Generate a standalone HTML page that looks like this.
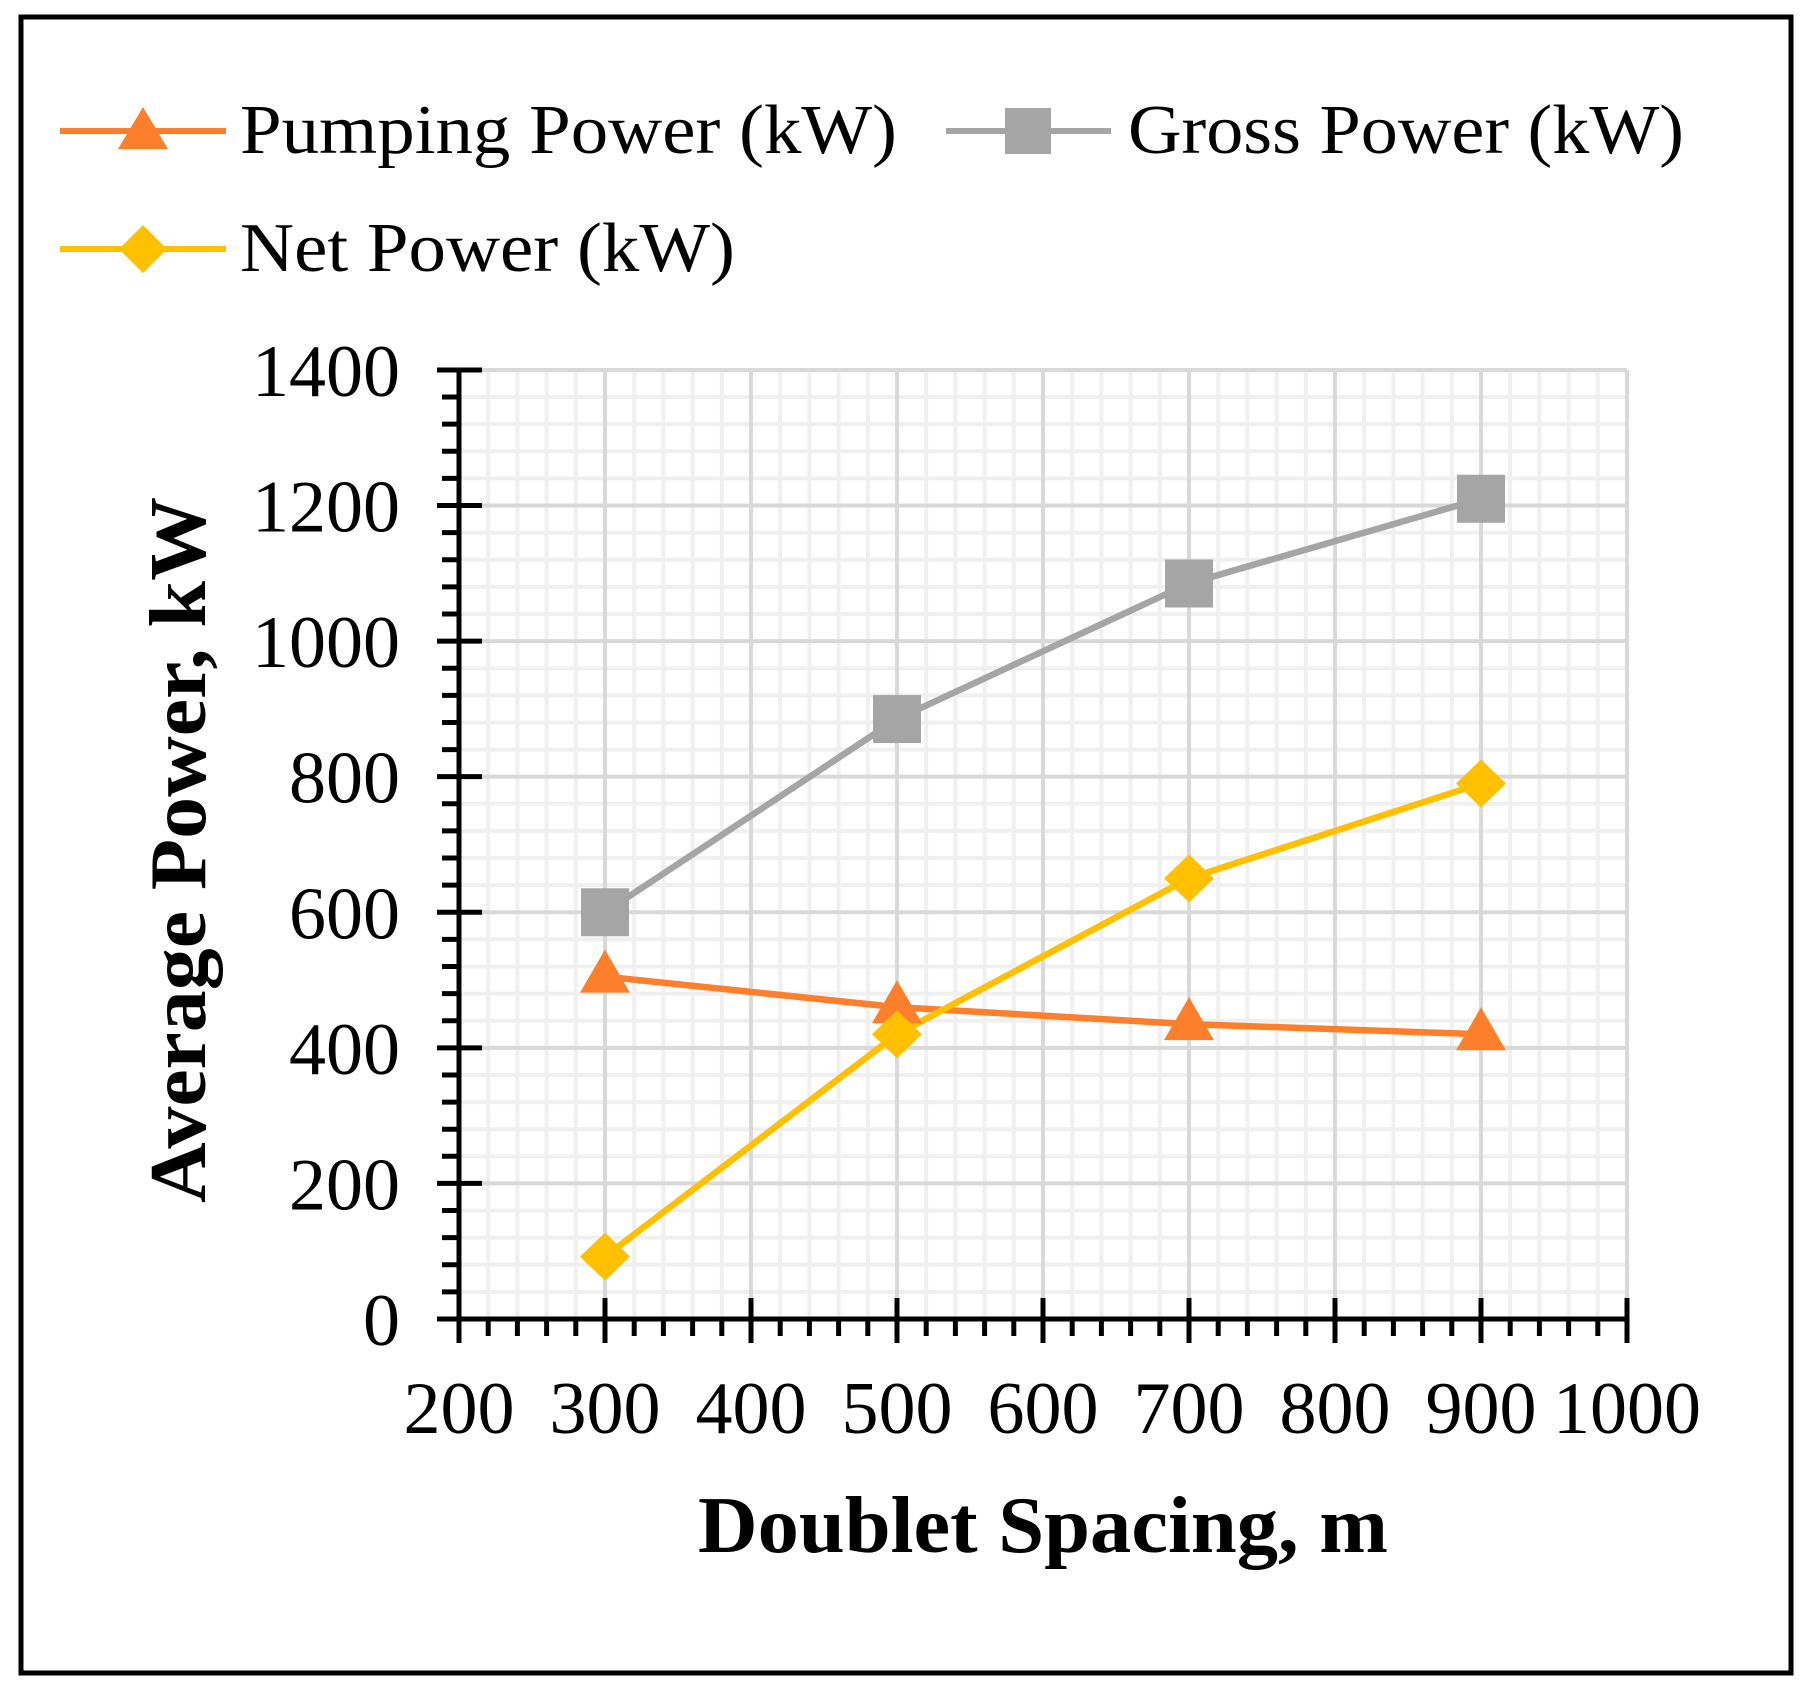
<!DOCTYPE html>
<html><head><meta charset="utf-8"><style>body{margin:0;background:#fff}svg{display:block}text{font-family:"Liberation Serif",serif}</style></head><body>
<svg width="1814" height="1695" viewBox="0 0 1814 1695" xmlns="http://www.w3.org/2000/svg">
<rect x="0" y="0" width="1814" height="1695" fill="#fff"/>
<rect x="21" y="17" width="1770" height="1656" fill="none" stroke="#000" stroke-width="5"/>
<g id="grid"></g>
<g id="axes"></g>
<g id="series"></g>
<g font-size="74" fill="#000" id="lbl"></g>
<text x="0" y="0" transform="translate(205,850) rotate(-90)" text-anchor="middle" font-size="80" font-weight="bold" textLength="706" lengthAdjust="spacingAndGlyphs">Average Power, kW</text>
<text x="1043" y="1552" text-anchor="middle" font-size="80" font-weight="bold" textLength="690" lengthAdjust="spacingAndGlyphs">Doublet Spacing, m</text>
<g stroke-width="6">
<line x1="60" y1="131" x2="226" y2="131" stroke="#fd7f2c"/>
<polygon points="143,107 168,149 118,149" fill="#fd7f2c"/>
<line x1="946" y1="131" x2="1111" y2="131" stroke="#a5a5a5"/>
<rect x="1005" y="108" width="46" height="46" fill="#a5a5a5"/>
<line x1="60" y1="249" x2="226" y2="249" stroke="#ffc000"/>
<polygon points="143,225 167,249 143,273 119,249" fill="#ffc000"/>
</g>
<text x="240" y="153" font-size="70" textLength="657" lengthAdjust="spacingAndGlyphs">Pumping Power (kW)</text>
<text x="1128" y="153" font-size="70" textLength="556" lengthAdjust="spacingAndGlyphs">Gross Power (kW)</text>
<text x="240" y="271" font-size="70" textLength="495" lengthAdjust="spacingAndGlyphs">Net Power (kW)</text>
<script>
const X=v=>459+(v-200)*1.46, Y=v=>1319-v*0.6779;
const ns='http://www.w3.org/2000/svg';
function el(p,t,a){const e=document.createElementNS(ns,t);for(const k in a)e.setAttribute(k,a[k]);document.getElementById(p).appendChild(e);return e;}
for(let v=200;v<=1000;v+=20){if(v%100)el('grid','line',{x1:X(v),x2:X(v),y1:370,y2:1319,stroke:'#f0f0f0','stroke-width':4});}
for(let v=0;v<=1400;v+=40){if(v%200)el('grid','line',{x1:459,x2:1627,y1:Y(v),y2:Y(v),stroke:'#f0f0f0','stroke-width':4});}
for(let v=300;v<=1000;v+=100)el('grid','line',{x1:X(v),x2:X(v),y1:370,y2:1319,stroke:'#d9d9d9','stroke-width':4});
for(let v=200;v<=1400;v+=200)el('grid','line',{x1:459,x2:1627,y1:Y(v),y2:Y(v),stroke:'#d9d9d9','stroke-width':4});
el('axes','line',{x1:459,x2:459,y1:368,y2:1321,stroke:'#000','stroke-width':5});
el('axes','line',{x1:437,x2:1629,y1:1319,y2:1319,stroke:'#000','stroke-width':5});
for(let v=0;v<=1400;v+=40){const maj=v%200==0;el('axes','line',{x1:maj?437:442,x2:maj?482:459,y1:Y(v),y2:Y(v),stroke:'#000','stroke-width':5});}
for(let v=200;v<=1000;v+=20){const maj=v%100==0;el('axes','line',{x1:X(v),x2:X(v),y1:maj?1298:1319,y2:maj?1343:1336,stroke:'#000','stroke-width':5});}
for(let v=0;v<=1400;v+=200){const t=el('lbl','text',{x:400,y:Y(v)+26,'text-anchor':'end'});t.textContent=v;}
for(let v=200;v<=1000;v+=100){const t=el('lbl','text',{x:X(v),y:1433,'text-anchor':'middle'});t.textContent=v;}
const xs=[300,500,700,900];
const g=[600,885,1085,1210],n=[92,420,650,790],p=[505,460,435,420];
function line(d,c){el('series','polyline',{points:xs.map((x,i)=>X(x)+','+Y(d[i])).join(' '),fill:'none',stroke:c,'stroke-width':6.5});}
line(g,'#a5a5a5');line(p,'#fd7f2c');line(n,'#ffc000');
xs.forEach((x,i)=>{const cx=X(x);
el('series','rect',{x:cx-24,y:Y(g[i])-24,width:48,height:48,fill:'#a5a5a5'});
el('series','polygon',{points:`${cx},${Y(p[i])-27} ${cx+25},${Y(p[i])+16} ${cx-25},${Y(p[i])+16}`,fill:'#fd7f2c'});
el('series','polygon',{points:`${cx},${Y(n[i])-24} ${cx+25},${Y(n[i])} ${cx},${Y(n[i])+24} ${cx-25},${Y(n[i])}`,fill:'#ffc000'});});
</script>
</svg>
</body></html>
